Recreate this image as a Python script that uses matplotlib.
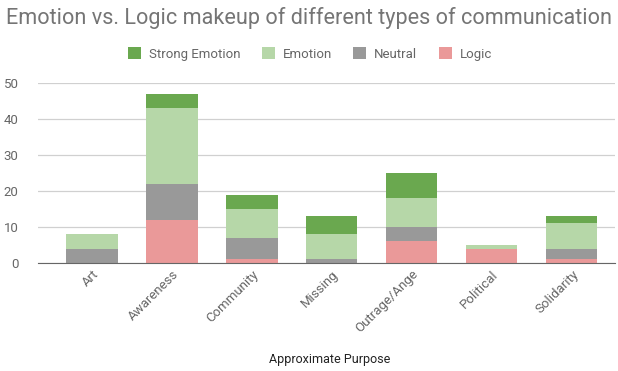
import numpy as np
import matplotlib.pyplot as plt

plt.rcParams['font.family'] = ['Roboto', 'DejaVu Sans']

# datos
categorias = ['Art', 'Awareness', 'Community', 'Missing', 'Outrage/Ange', 'Political', 'Solidarity']
logic = [0, 12, 1, 0, 6, 4, 1]
neutral = [4, 10, 6, 1, 4, 0, 3]
emotion = [4, 21, 8, 7, 8, 1, 7]
strong_emotion = [0, 4, 4, 5, 7, 0, 2]

colores = {'Strong Emotion': '#6aa84f', 'Emotion': '#b6d7a8',
           'Neutral': '#999999', 'Logic': '#ea9999'}

fig = plt.figure(figsize=(6.18, 3.71), dpi=100)
ax = fig.add_axes([38/618, 1 - 263/371, 577/618, 180/371])

x = np.arange(len(categorias))
ancho = 0.64
base = np.zeros(len(categorias))
barras = {}
for nombre, vals in [('Logic', logic), ('Neutral', neutral),
                     ('Emotion', emotion), ('Strong Emotion', strong_emotion)]:
    barras[nombre] = ax.bar(x, vals, ancho, bottom=base, color=colores[nombre],
                            label=nombre, zorder=3)
    base = base + np.array(vals)

ax.set_xlim(-0.675, 6.54)
ax.set_ylim(0, 50)
ax.set_yticks([0, 10, 20, 30, 40, 50])
ax.grid(axis='y', color='#d0d0d0', linewidth=0.9, zorder=0)
for s in ['top', 'right', 'left']:
    ax.spines[s].set_visible(False)
ax.spines['bottom'].set_color('#666666')
ax.spines['bottom'].set_zorder(4)
ax.tick_params(axis='both', length=0, colors='#666666', labelsize=9.5)
ax.tick_params(axis='y', pad=14)
ax.set_xticks(x)
ax.set_xticklabels(categorias, rotation=45, ha='right', rotation_mode='anchor')

# etiqueta del eje x como texto de la figura
fig.text(330/618, 1 - 360/371, 'Approximate Purpose', ha='center', va='center',
         color='#222222', fontsize=9)

fig.text(0.5, 1 - 18/371, 'Emotion vs. Logic makeup of different types of communication',
         ha='center', va='center', fontsize=15.6, color='#757575')

orden = ['Strong Emotion', 'Emotion', 'Neutral', 'Logic']
fig.legend([barras[n] for n in orden], orden, loc='center', ncol=4,
           bbox_to_anchor=(310/618, 1 - 54/371), frameon=False,
           fontsize=9.5, labelcolor='#666666', handlelength=1.0, handleheight=1.0,
           columnspacing=1.6, handletextpad=0.6)

fig.savefig('out.png', dpi=100)
